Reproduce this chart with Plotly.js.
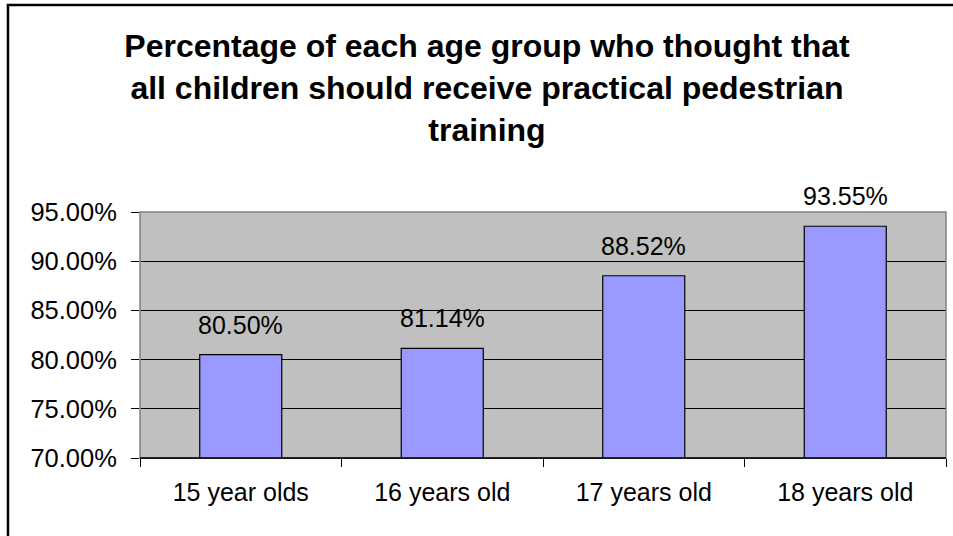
<!DOCTYPE html>
<html>
<head>
<meta charset="utf-8">
<script src="https://cdn.plot.ly/plotly-3.0.1.min.js"></script>
<style>
  html, body { margin: 0; padding: 0; background: #ffffff; }
  #chart { width: 953px; height: 536px; }
</style>
</head>
<body>
<div id="chart"></div>
<script>
const categories = ["15 year olds", "16 years old", "17 years old", "18 years old"];
const percentages = [80.50, 81.14, 88.52, 93.55];
const yTickValues = [70, 75, 80, 85, 90, 95];
const titleText = "Percentage of each age group who thought that<br>all children should receive practical pedestrian<br>training";

const fontFamily = "'Liberation Sans', Arial, sans-serif";

const trace = {
  type: "bar",
  x: categories,
  y: percentages,
  marker: { color: "#9999FF", line: { color: "#000000", width: 1.2 } },
  hoverinfo: "skip"
};

const annotations = categories.map((c, i) => ({
  x: c,
  y: percentages[i],
  xref: "x",
  yref: "y",
  text: percentages[i].toFixed(2) + "%",
  showarrow: false,
  yanchor: "bottom",
  yshift: 14,
  font: { family: fontFamily, size: 25, color: "#000000" }
}));

const layout = {
  width: 953,
  height: 536,
  margin: { l: 140, r: 7, t: 212, b: 78, pad: 0 },
  paper_bgcolor: "#ffffff",
  plot_bgcolor: "#C0C0C0",
  showlegend: false,
  bargap: 0.593,
  font: { family: fontFamily, color: "#000000" },
  title: {
    text: titleText,
    font: { family: fontFamily, size: 32, color: "#000000", weight: "bold" },
    xref: "container",
    x: 0.511,
    xanchor: "center",
    yref: "container",
    y: 0.893,
    yanchor: "top"
  },
  xaxis: {
    type: "category",
    showgrid: false,
    showline: true,
    linecolor: "#000000",
    linewidth: 1,
    ticks: "outside",
    tickson: "boundaries",
    ticklen: 8,
    tickcolor: "#000000",
    tickwidth: 1,
    ticklabelstandoff: 12,
    tickfont: { family: fontFamily, size: 25, color: "#000000" },
    zeroline: false,
    fixedrange: true
  },
  yaxis: {
    range: [70, 95],
    tickvals: yTickValues,
    ticktext: yTickValues.map(v => v.toFixed(2) + "%"),
    showgrid: true,
    gridcolor: "#000000",
    gridwidth: 1,
    showline: false,
    ticks: "outside",
    ticklen: 8,
    tickcolor: "#000000",
    tickwidth: 1,
    ticklabelstandoff: 9,
    tickfont: { family: fontFamily, size: 25.5, color: "#000000" },
    zeroline: false,
    fixedrange: true
  },
  shapes: [
    {
      type: "rect", xref: "paper", yref: "paper",
      x0: 0, x1: 1, y0: 0, y1: 1,
      line: { color: "#808080", width: 1.5 },
      fillcolor: "rgba(0,0,0,0)",
      layer: "above"
    },
    {
      type: "line", xref: "paper", yref: "paper",
      x0: 0, x1: 1, y0: 0, y1: 0,
      line: { color: "#000000", width: 1.5 },
      layer: "above"
    },
    {
      type: "rect", xref: "paper", yref: "paper",
      x0: -0.1638, x1: 1.05, y0: -0.5, y1: 1.8415,
      line: { color: "#000000", width: 2.5 },
      fillcolor: "rgba(0,0,0,0)",
      layer: "above"
    }
  ],
  annotations: annotations
};

Plotly.newPlot("chart", [trace], layout, { staticPlot: true, displayModeBar: false });
</script>
</body>
</html>
